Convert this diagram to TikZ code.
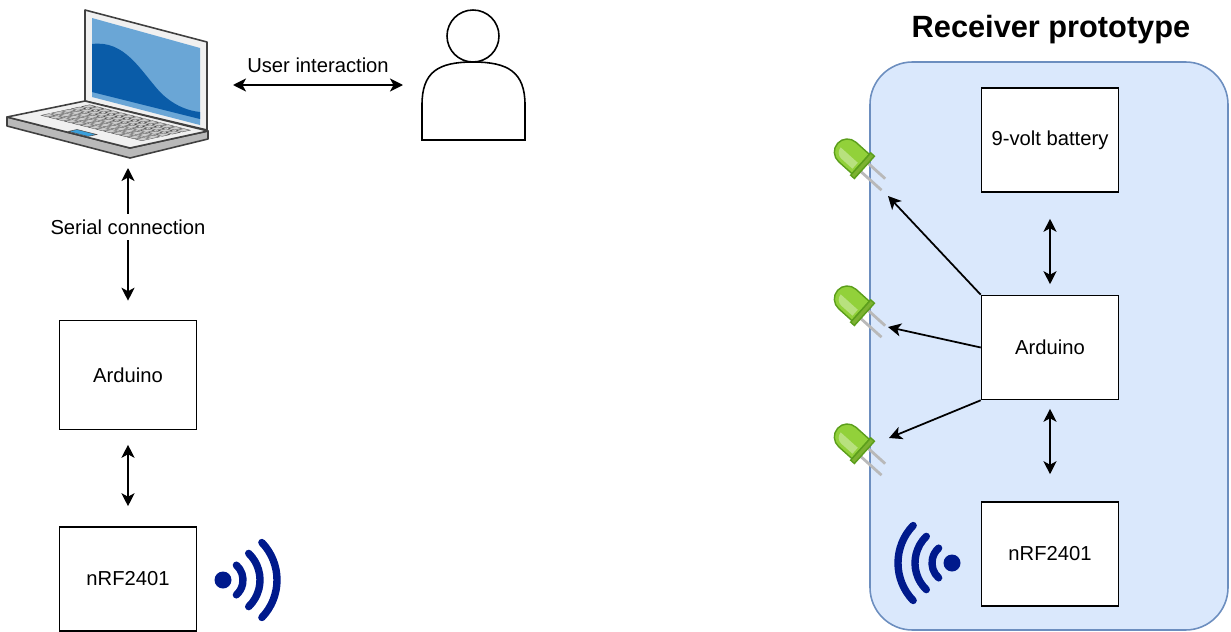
\documentclass[tikz,border=0pt]{standalone}
\usepackage{fontspec}
\setmainfont{Liberation Sans}
\usetikzlibrary{arrows.meta}

\definecolor{proto}{HTML}{DAE8FC}
\definecolor{protoline}{HTML}{6C8EBF}
\definecolor{radio}{HTML}{001A8C}
\definecolor{ledgreen}{HTML}{92D13A}
\definecolor{ledrim}{HTML}{5B9E1B}
\definecolor{screenlight}{HTML}{6AA6D6}
\definecolor{screendark}{HTML}{0A5CA8}
\definecolor{touchpad}{HTML}{3AA0DC}

\tikzset{
  module/.style={draw, fill=white, line width=0.9pt, minimum width=2.74cm, minimum height=2.08cm},
  biarrow/.style={{Stealth[length=0.26cm,width=0.26cm,inset=0.07cm]}-{Stealth[length=0.26cm,width=0.26cm,inset=0.07cm]}, line width=1pt},
  onearrow/.style={-{Stealth[length=0.26cm,width=0.26cm,inset=0.07cm]}, line width=1pt},
  wave/.style={radio, line width=4.2pt, line cap=round},
  outline/.style={draw=black!75, line width=0.9pt, line join=round},
}

\begin{document}
\begin{tikzpicture}[x=0.02cm, y=-0.02cm, font=\fontsize{11.5}{13.5}\selectfont]
\useasboundingbox (0,0) rectangle (1231,632);

% laptop: lid and screen
\filldraw[outline, fill=gray!12] (85,10) -- (207,42) -- (207,130) -- (85,101) -- cycle;
\fill[screenlight] (92,18) -- (200,48) -- (200,125) -- (92,97) -- cycle;
\fill[screendark] (92,44) .. controls (125,40) and (140,70) .. (160,92) .. controls (175,107) and (190,111) .. (200,112) -- (200,119) -- (92,92) -- cycle;
% laptop: base, keys and touchpad
\filldraw[outline, fill=gray!55] (7,117) -- (7,126) -- (130,158) -- (208,139) -- (208,131) -- (130,148) -- cycle;
\filldraw[outline, fill=gray!12] (7,117) -- (130,148) -- (208,131) -- (85,101) -- cycle;
\foreach \ku in {0.1,0.164,...,0.87}
  \foreach \kv in {0.28,0.41,...,0.9} {
    \pgfmathsetmacro{\kx}{7+123*\ku+78*\kv}
    \pgfmathsetmacro{\ky}{117+31*\ku-17*\kv}
    \filldraw[fill=gray!40, draw=gray!60!black, line width=0.2pt] (\kx,\ky) -- ++(6.2,1.6) -- ++(7.8,-1.7) -- ++(-6.2,-1.6) -- cycle;
  }
\filldraw[fill=touchpad, draw=gray!60!black, line width=0.3pt] (68.4,131.4) -- ++(19.7,5) -- ++(8.6,-1.9) -- ++(-19.7,-5) -- cycle;

% user
\draw[line width=0.9pt] (473,36) circle (26);
\draw[line width=0.9pt] (422,140) -- (422,105) .. controls (422,72) and (438,62) .. (473,62) .. controls (508,62) and (525,72) .. (525,105) -- (525,140) -- cycle;

\coordinate (pc) at (128,168);
\coordinate (pcright) at (233,85);
\coordinate (user) at (403,85);
\draw[biarrow] (pcright) -- (user) node[midway, above, yshift=3pt] {User interaction};

% transmitter side
\node[module, minimum height=2.18cm] (ard1) at (128,375) {Arduino};
\node[module] (rf1) at (128,579) {nRF2401};
\draw[biarrow, shorten >=0.38cm] (pc) -- (ard1.north) node[pos=0.39, fill=white] {Serial connection};
\draw[biarrow, shorten <=0.29cm, shorten >=0.4cm] (ard1) -- (rf1);

\fill[radio] (223,580) circle (8.5);
\foreach \r/\a in {20/48, 37/46, 54/44}
  \draw[wave] ([shift={(-\a:\r)}]223,580) arc[start angle=-\a, end angle=\a, radius=\r];

% receiver prototype
\node[font=\bfseries\fontsize{17.5}{20}\selectfont] (title) at (1051,30) {Receiver prototype};
\draw[fill=proto, draw=protoline, line width=0.9pt, rounded corners=0.85cm] (870,62) rectangle (1228,630);

\foreach \ly in {158,305,443} {
  \begin{scope}[shift={(854,\ly)}, rotate=48]
    \draw[gray!55, line width=1.6pt] (-5.5,14) -- (-5.5,42) (5.5,14) -- (5.5,37);
    \filldraw[fill=ledgreen, draw=ledrim, line width=0.8pt] (-13,9) -- (-13,-9) arc[start angle=180, end angle=360, radius=13] -- (13,9) -- cycle;
    \fill[white, opacity=0.35] (-9,6) -- (-9,-9) arc[start angle=180, end angle=270, radius=8] -- (-1,-17) -- (-1,6) -- cycle;
    \filldraw[fill=ledgreen!85!black, draw=ledrim, line width=0.8pt] (-15,9) -- (15,9) -- (15,14) -- (-15,14) -- cycle;
  \end{scope}
}
\coordinate (led1) at (888,196);
\coordinate (led2) at (888,327);
\coordinate (led3) at (889,438);

\node[module] (battery) at (1050,140) {9-volt battery};
\node[module] (ard2) at (1050,347.5) {Arduino};
\node[module] (rf2) at (1050,554) {nRF2401};

\draw[biarrow, shorten <=0.52cm, shorten >=0.21cm] (battery) -- (ard2);
\draw[biarrow, shorten <=0.17cm, shorten >=0.54cm] (ard2) -- (rf2);
\draw[onearrow] (ard2.north west) -- (led1);
\draw[onearrow] (ard2.west) -- (led2);
\draw[onearrow] (ard2.south west) -- (led3);

\fill[radio] (952,563) circle (8.5);
\foreach \r/\a in {20/48, 37/46, 54/44}
  \draw[wave] ([shift={(180-\a:\r)}]952,563) arc[start angle=180-\a, end angle=180+\a, radius=\r];
\end{tikzpicture}
\end{document}
